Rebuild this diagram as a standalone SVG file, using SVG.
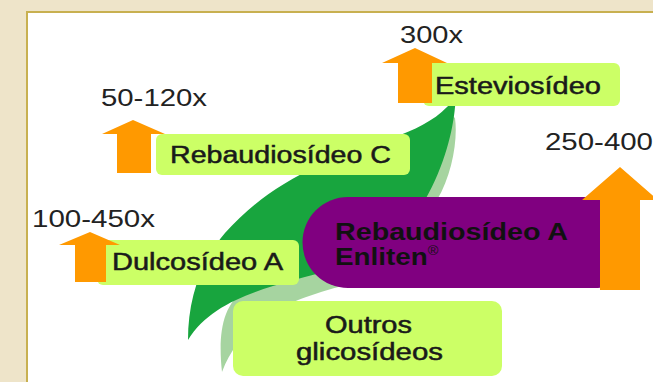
<svg xmlns="http://www.w3.org/2000/svg" width="653" height="382" viewBox="0 0 653 382">
<style>
.num{font-family:"Liberation Sans",Arial,sans-serif;font-size:23px;fill:#222}
.lbl{font-family:"Liberation Sans",Arial,sans-serif;font-size:23px;fill:#1a1a1a;stroke:#1a1a1a;stroke-width:0.5}
.bold{font-family:"Liberation Sans",Arial,sans-serif;font-size:23px;font-weight:bold;fill:#111}
.box{fill:#CCFF66}
.arrow{fill:#FF9900}
</style>
<rect x="0" y="0" width="653" height="382" fill="#EEE4C9"/>
<rect x="27" y="12" width="660" height="400" fill="#FFFFFF" stroke="#C8B050" stroke-width="2"/>

<g id="leaves">
  <path id="leaf-light" fill="#A6D4A0" d="M222,372 C218,335 222,305 245,290 L448,112 L455,118 C458,140 452,175 437,200 C410,240 380,270 345,285 C300,298 245,312 222,372 Z"/>
  <path id="leaf-dark" fill="#18A53E" d="M188,340 C188,300 200,262 225,233 C250,205 280,183 320,165 C370,143 420,135 447,107 L456,98 L455,107 C453,130 445,165 425,200 C400,235 370,255 330,270 C280,285 215,295 188,340 Z"/>
</g>

<g id="node-esteviosideo">
  <rect class="box" x="423" y="63" width="197" height="43" rx="6"/>
  <text class="lbl" x="435" y="94" textLength="166" lengthAdjust="spacingAndGlyphs">Esteviosídeo</text>
</g>
<g id="node-rebaudiosideo-c">
  <rect class="box" x="156" y="134" width="254" height="41" rx="6"/>
  <text class="lbl" x="170" y="163" textLength="221" lengthAdjust="spacingAndGlyphs">Rebaudiosídeo C</text>
</g>
<g id="node-dulcosideo-a">
  <rect class="box" x="97" y="240" width="202" height="45" rx="6"/>
  <text class="lbl" x="112" y="270" textLength="171" lengthAdjust="spacingAndGlyphs">Dulcosídeo A</text>
</g>
<g id="node-outros">
  <rect class="box" x="233" y="301" width="269" height="75" rx="10"/>
  <text class="lbl" x="325" y="333" textLength="87" lengthAdjust="spacingAndGlyphs">Outros</text>
  <text class="lbl" x="296" y="360" textLength="147" lengthAdjust="spacingAndGlyphs">glicosídeos</text>
</g>
<g id="node-rebaudiosideo-a">
  <path fill="#800080" d="M348,197 L598,197 Q606,197 606,205 L606,280 Q606,288 598,288 L348,288 A45.5,45.5 0 0 1 348,197 Z"/>
  <text class="bold" x="335" y="240" textLength="233" lengthAdjust="spacingAndGlyphs">Rebaudiosídeo A</text>
  <g transform="translate(335,265) scale(1.21,1)">
    <text class="bold" x="0" y="0">Enliten<tspan font-size="12" font-weight="normal" dy="-10">®</tspan></text>
  </g>
</g>

<g id="arrows">
  <polygon id="arrow-esteviosideo" class="arrow" points="415,48 447,63 432,63 432,103 398,103 398,63 382,63"/>
  <polygon id="arrow-rebaudiosideo-c" class="arrow" points="133,120 165,134 151,134 151,173 117,173 117,134 102,134"/>
  <polygon id="arrow-dulcosideo-a" class="arrow" points="90,232 120,245 106,245 106,282 75,282 75,245 59,245"/>
  <polygon id="arrow-rebaudiosideo-a" class="arrow" points="620,167 658,200 640,200 640,290 600,290 600,200 582,200"/>
</g>

<g id="values">
  <text class="num" x="400" y="43" textLength="63" lengthAdjust="spacingAndGlyphs">300x</text>
  <text class="num" x="101" y="106" textLength="106" lengthAdjust="spacingAndGlyphs">50-120x</text>
  <text class="num" x="32" y="227" textLength="123" lengthAdjust="spacingAndGlyphs">100-450x</text>
  <text class="num" x="545" y="150" textLength="108" lengthAdjust="spacingAndGlyphs">250-400</text>
</g>
</svg>
